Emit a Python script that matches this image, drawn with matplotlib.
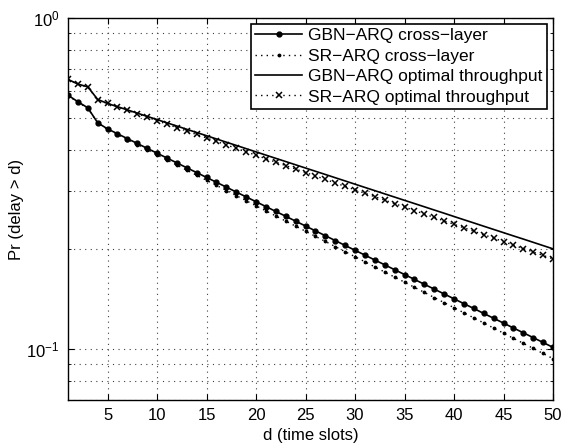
import numpy as np
import matplotlib
matplotlib.use("Agg")
import matplotlib.pyplot as plt
from matplotlib.ticker import LogLocator, NullFormatter, MultipleLocator

plt.rcParams['font.family'] = ['Liberation Sans', 'DejaVu Sans']
plt.rcParams['mathtext.fontset'] = 'custom'
plt.rcParams['mathtext.rm'] = 'Liberation Sans'

###############################################
# Data (d = 1 .. 50)

d = list(range(1, 51))

gbn_cross = [0.584, 0.558, 0.535, 0.482, 0.4619, 0.4466, 0.4318, 0.4174, 0.4035, 0.3901,
             0.3772, 0.3646, 0.3525, 0.3408, 0.3295, 0.3186, 0.3080, 0.2977, 0.2878, 0.2783,
             0.2690, 0.2601, 0.2515, 0.2431, 0.2350, 0.2272, 0.2197, 0.2124, 0.2053, 0.1985,
             0.1919, 0.1855, 0.1794, 0.1734, 0.1677, 0.1621, 0.1567, 0.1515, 0.1465, 0.1416,
             0.1369, 0.1324, 0.1279, 0.1237, 0.1196, 0.1156, 0.1118, 0.1081, 0.1045, 0.1010]

sr_cross = [0.582, 0.556, 0.533, 0.481, 0.4604, 0.4443, 0.4289, 0.4140, 0.3995, 0.3856,
            0.3722, 0.3592, 0.3467, 0.3347, 0.3230, 0.3118, 0.3009, 0.2904, 0.2803, 0.2705,
            0.2611, 0.2520, 0.2432, 0.2348, 0.2266, 0.2187, 0.2111, 0.2037, 0.1966, 0.1898,
            0.1832, 0.1768, 0.1706, 0.1647, 0.1590, 0.1534, 0.1481, 0.1429, 0.1379, 0.1331,
            0.1285, 0.1240, 0.1197, 0.1155, 0.1115, 0.1076, 0.1039, 0.1003, 0.0968, 0.0934]

gbn_opt = [0.652, 0.631, 0.619, 0.567, 0.5513, 0.5391, 0.5272, 0.5155, 0.5040, 0.4928,
           0.4819, 0.4712, 0.4607, 0.4505, 0.4405, 0.4307, 0.4211, 0.4118, 0.4026, 0.3936,
           0.3849, 0.3763, 0.3680, 0.3598, 0.3518, 0.3440, 0.3364, 0.3289, 0.3216, 0.3144,
           0.3074, 0.3006, 0.2939, 0.2874, 0.2810, 0.2748, 0.2687, 0.2627, 0.2569, 0.2511,
           0.2455, 0.2401, 0.2347, 0.2295, 0.2244, 0.2194, 0.2146, 0.2098, 0.2051, 0.2005]

sr_opt = [0.652, 0.630, 0.618, 0.566, 0.5513, 0.5383, 0.5255, 0.5131, 0.5009, 0.4890,
          0.4774, 0.4661, 0.4550, 0.4443, 0.4337, 0.4234, 0.4133, 0.4035, 0.3939, 0.3846,
          0.3754, 0.3665, 0.3578, 0.3493, 0.3410, 0.3329, 0.3250, 0.3173, 0.3097, 0.3024,
          0.2952, 0.2882, 0.2813, 0.2746, 0.2681, 0.2618, 0.2555, 0.2495, 0.2435, 0.2378,
          0.2321, 0.2266, 0.2212, 0.2160, 0.2109, 0.2058, 0.2009, 0.1962, 0.1915, 0.1870]

labels = ["GBN\u2212ARQ cross\u2212layer", "SR\u2212ARQ cross\u2212layer",
          "GBN\u2212ARQ optimal throughput", "SR\u2212ARQ optimal throughput"]

###############################################
# Figure

fig = plt.figure(figsize=(5.62, 4.48), dpi=100)
ax = fig.add_axes([0.121, 0.107, 0.863, 0.853])

ax.semilogy(d, gbn_cross, '-', color='black', lw=1.2, marker='o', ms=3.5, label=labels[0])
ax.semilogy(d, sr_cross, color='black', ls=(0, (1, 3)), lw=1.0, marker='.', ms=3.5, label=labels[1])
ax.semilogy(d, gbn_opt, '-', color='black', lw=1.2, label=labels[2])
ax.semilogy(d, sr_opt, color='black', ls=(0, (1, 3)), lw=1.0, marker='x', ms=5, mew=1.1, label=labels[3])

ax.set_xlim(1, 50)
ax.set_ylim(0.07, 1)
ax.xaxis.set_major_locator(MultipleLocator(5))
ax.yaxis.set_major_locator(LogLocator(base=10, numticks=5))
ax.yaxis.set_minor_locator(LogLocator(base=10, subs=np.arange(2, 10), numticks=12))
ax.yaxis.set_minor_formatter(NullFormatter())

grid_style = dict(linestyle=(0, (1, 4)), color='0.25', lw=0.8)
ax.grid(True, which='major', **grid_style)
ax.grid(True, which='minor', axis='y', **grid_style)
ax.tick_params(which='both', direction='in', top=True, right=True, labelsize=12)
ax.tick_params(which='major', length=4, pad=6)
ax.tick_params(which='minor', length=2)
for s in ax.spines.values():
    s.set_linewidth(1.0)

ax.set_xlabel("d (time slots)", fontsize=12, labelpad=3)
ax.set_ylabel("Pr (delay > d)", fontsize=12, labelpad=2)

leg = ax.legend(loc='upper right', fontsize=12.5, frameon=True, fancybox=False,
                edgecolor='black', framealpha=1, handlelength=2.7, handletextpad=0.35,
                labelspacing=0.3, borderpad=0.25, borderaxespad=0.35)
leg.get_frame().set_linewidth(1.2)

fig.savefig("out.png", dpi=100)
